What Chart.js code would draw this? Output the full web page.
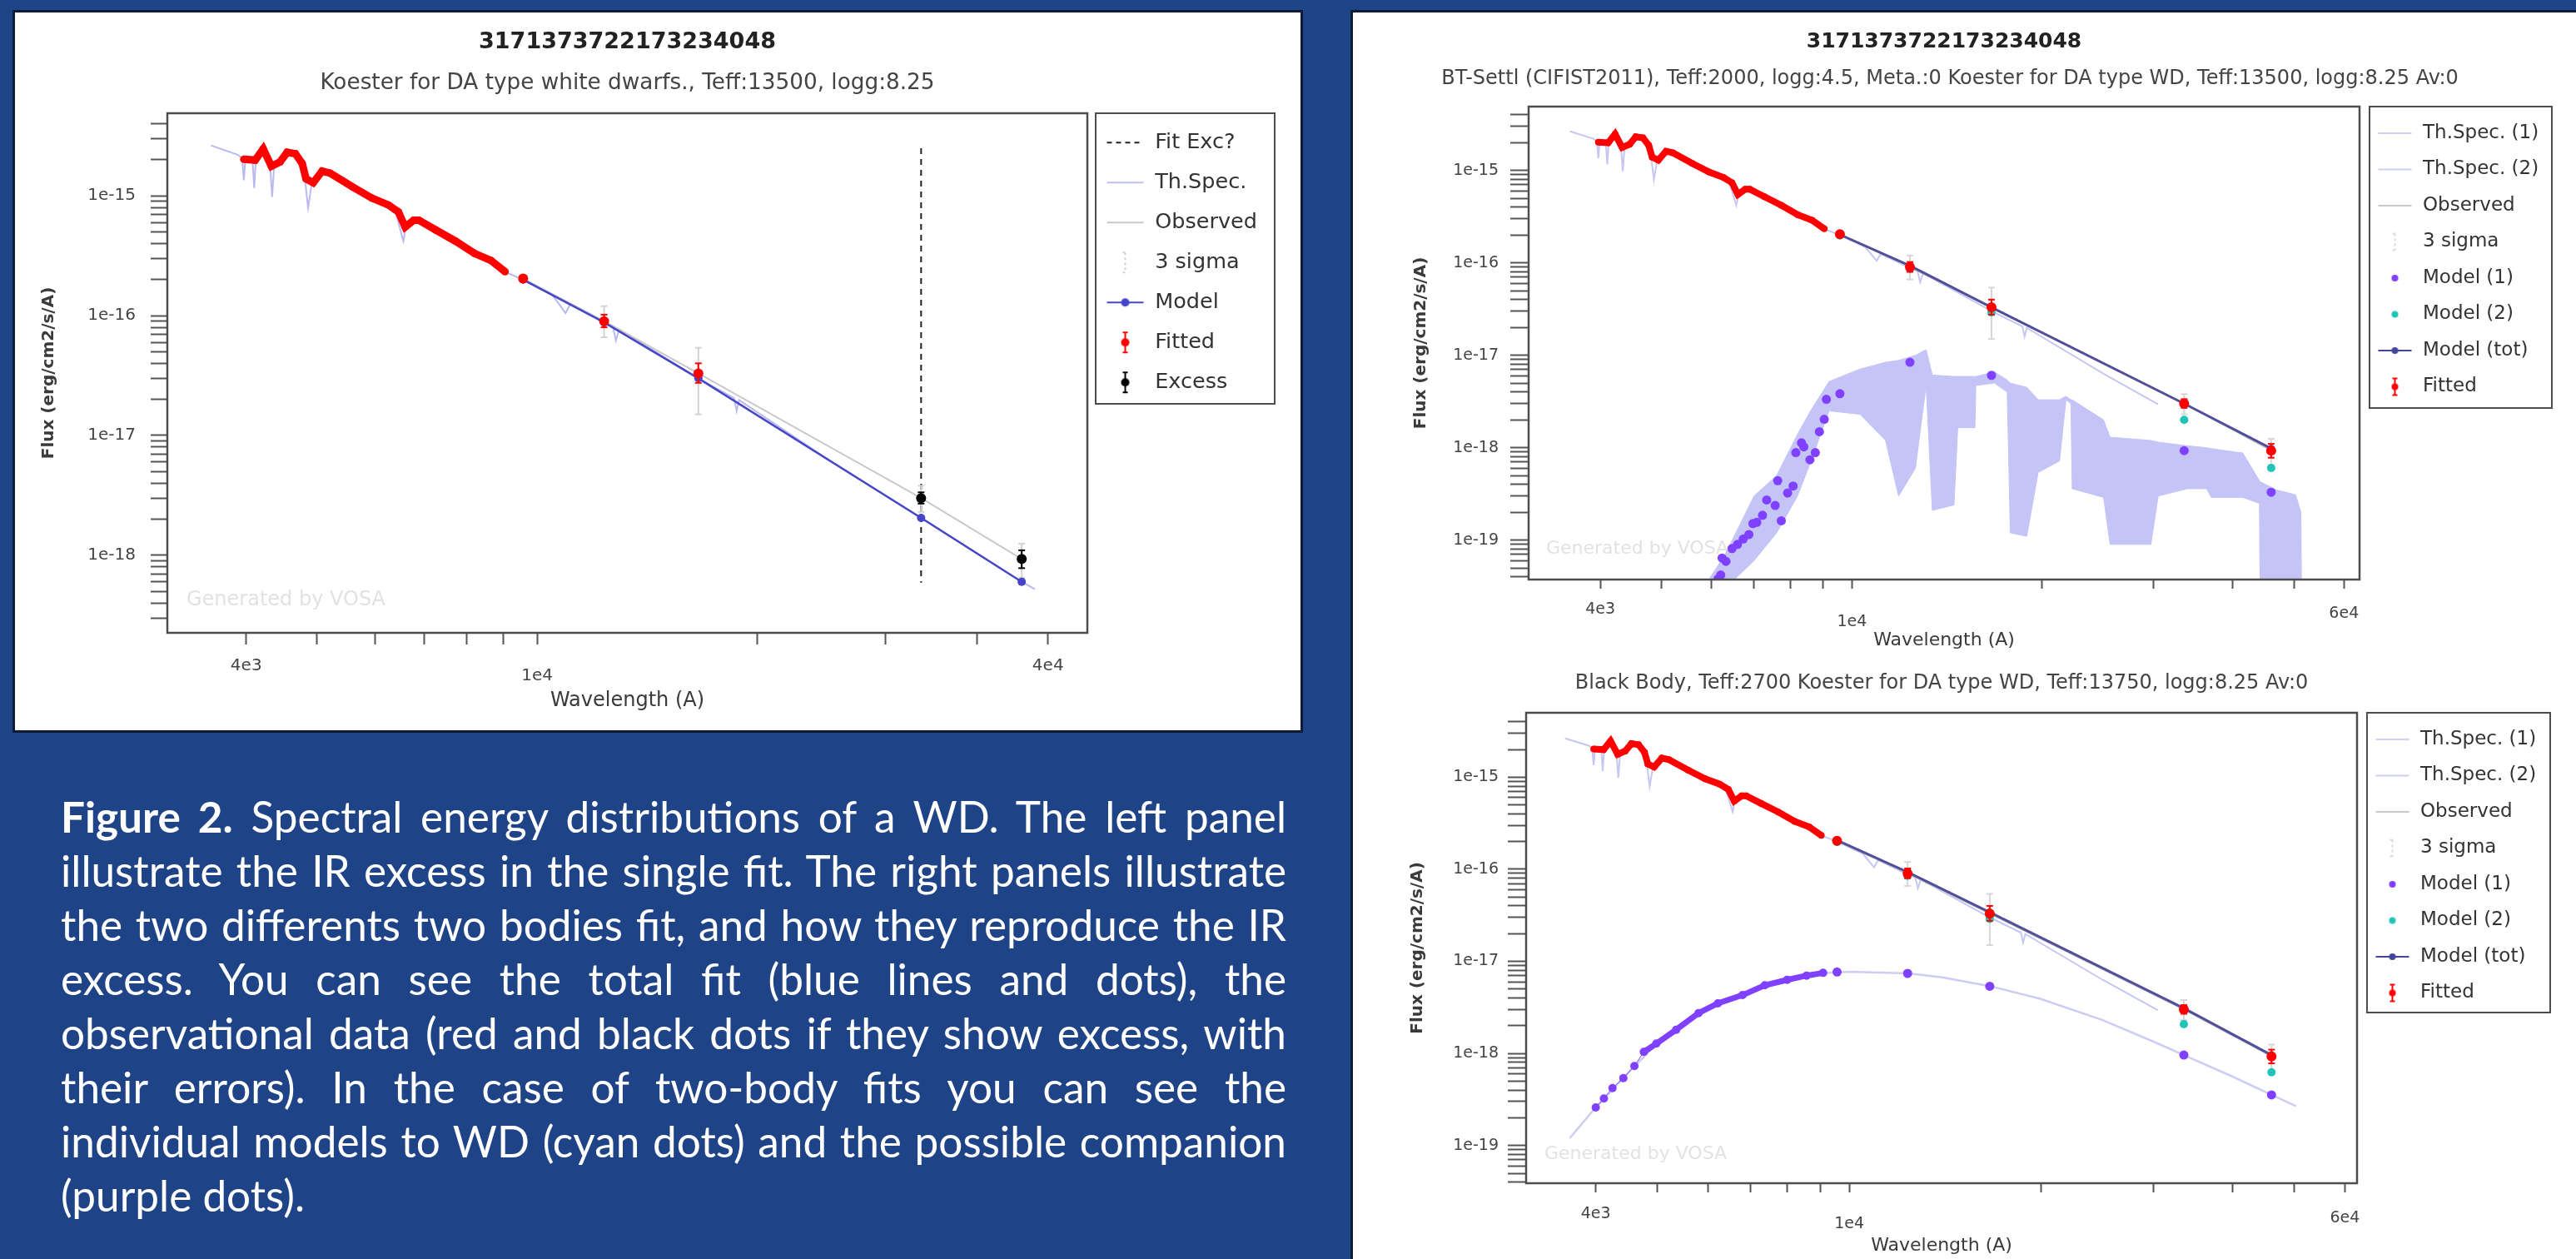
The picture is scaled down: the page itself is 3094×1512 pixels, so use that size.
<!DOCTYPE html>
<html>
<head>
<meta charset="utf-8">
<title>SED 3171373722173234048</title>
<script src="https://cdn.jsdelivr.net/npm/chart.js@4.4.1/dist/chart.umd.min.js"></script>
<style>
  html, body { margin: 0; padding: 0; }
  body { width: 3094px; height: 1512px; background: #1f4387; position: relative; overflow: hidden; }
  .panel { position: absolute; background: #fff; box-shadow: 0 0 0 3px #0d1b36; }
  #left { left: 18px; top: 15px; width: 1544px; height: 862px; }
  #right { left: 1625px; top: 15px; width: 1469px; height: 1497px; }
  canvas { position: absolute; left: 0; }
  #caption { position: absolute; left: 73px; top: 948px; width: 1472px; color: #fff; font-family: Lato, sans-serif; font-size: 46px; line-height: 65px; }
  #caption div { text-align: justify; text-align-last: justify; }
  #caption div:last-child { text-align-last: left; }
</style>
</head>
<body>
<div class="panel" id="left"><canvas id="c1" width="1544" height="862" style="top:0"></canvas></div>
<div class="panel" id="right">
  <canvas id="c2" width="1469" height="770" style="top:0"></canvas>
  <canvas id="c3" width="1469" height="727" style="top:770px"></canvas>
</div>
<div id="caption"></div>
<script>
// observed photometry / spectrum of the WD (same star in all three panels)
const specLam  = [3970, 4115, 4220, 4330, 4450, 4550, 4670, 4770, 4830, 4940, 5080, 5210, 5590, 5940, 6260, 6460, 6600, 6780, 6890, 7270, 7730, 8210, 8650, 9040];
const specFlux = [2.02e-15, 1.99e-15, 2.47e-15, 1.77e-15, 1.92e-15, 2.31e-15, 2.25e-15, 1.87e-15, 1.39e-15, 1.29e-15, 1.61e-15, 1.55e-15, 1.19e-15, 9.6e-16, 8.4e-16, 7.35e-16, 5.5e-16, 6.27e-16, 6.27e-16, 5.19e-16, 4.2e-16, 3.31e-16, 2.89e-16, 2.33e-16];
const photLam   = [9570, 12350, 16620, 33526, 46028];
const photFlux  = [2.04e-16, 9.0e-17, 3.3e-17, 3.0e-18, 9.3e-19];
const photErrHi = [2.1e-16, 1.02e-16, 4.0e-17, 3.35e-18, 1.1e-18];
const photErrLo = [1.98e-16, 8.0e-17, 2.75e-17, 2.7e-18, 7.8e-19];
const sigma3Hi  = [2.25e-16, 1.2e-16, 5.4e-17, 3.8e-18, 1.25e-18];
const sigma3Lo  = [1.8e-16, 6.6e-17, 1.5e-17, 2.3e-18, 6.5e-19];

// Koester WD theoretical spectrum
const thLam  = [3580, 3900, 3950, 3970, 3990, 4080, 4102, 4125, 4200, 4310, 4340, 4370, 4500, 4650, 4800, 4861, 4920, 5080, 5600, 6000, 6400, 6563, 6620, 6800, 7300, 8200, 9000, 9570, 10500, 10940, 11100, 12350, 12700, 12818, 12950, 16620, 18600, 18751, 18900, 25000, 30500, 33526, 46028, 48000];
const thFlux = [2.64e-15, 2.2e-15, 2.05e-15, 1.35e-15, 2.05e-15, 2.0e-15, 1.16e-15, 2.1e-15, 2.35e-15, 1.9e-15, 9.8e-16, 1.85e-15, 2.1e-15, 2.2e-15, 1.6e-15, 7.96e-16, 1.3e-15, 1.58e-15, 1.18e-15, 9.4e-16, 7.4e-16, 4.2e-16, 5.6e-16, 6.2e-16, 5.1e-16, 3.3e-16, 2.35e-16, 2.0e-16, 1.48e-16, 1.05e-16, 1.25e-16, 8.8e-17, 8.1e-17, 6.2e-17, 7.7e-17, 3.0e-17, 2.05e-17, 1.6e-17, 1.98e-17, 6.3e-18, 2.95e-18, 2.05e-18, 6.0e-19, 5.2e-19];

// left panel: single fit
const modelLeft = [2.0e-16, 8.8e-17, 3.0e-17, 2.05e-18, 6.0e-19];
const fitExcLam = 33526;
const fitExcFlux = [2.5e-15, 5.9e-19];

// right top: BT-Settl + Koester
const wdTop  = [1.98e-16, 8.6e-17, 2.9e-17, 2.0e-18, 6.04e-19];
const totTop = [2.02e-16, 9.3e-17, 3.3e-17, 3.0e-18, 9.8e-19];
const m1TopPhot = [3.84e-18, 8.4e-18, 6.07e-18, 9.3e-19, 3.3e-19];
const m1TopLam  = [6140, 6200, 6230, 6320, 6460, 6590, 6730, 6870, 6970, 7070, 7220, 7330, 7560, 7630, 7730, 7910, 8070, 8150, 8320, 8390, 8580, 8750, 8880, 9040, 9110];
const m1TopFlux = [3.8e-20, 4.2e-20, 6.4e-20, 5.9e-20, 8.1e-20, 9.0e-20, 1.03e-19, 1.15e-19, 1.51e-19, 1.56e-19, 1.86e-19, 2.72e-19, 2.37e-19, 4.4e-19, 1.62e-19, 3.24e-19, 3.85e-19, 8.85e-19, 1.13e-18, 1.02e-18, 7.4e-19, 8.85e-19, 1.49e-18, 2.03e-18, 3.34e-18];
const bandLam = [5900, 6300, 7000, 7600, 8200, 8600, 9200, 10300, 11300, 11850, 12600, 13100, 13400, 14500, 14700, 15650, 15700, 16800, 17600, 17800, 18900, 19700, 21300, 21800, 22200, 22300, 25000, 25600, 29700, 30500, 33900, 36400, 37000, 40700, 41500, 44100, 44200, 46900, 50300, 51300, 51400];
const bandHi  = [3.5e-20, 7e-20, 3e-19, 5e-19, 1.4e-18, 2.5e-18, 5.2e-18, 7.1e-18, 8.4e-18, 8.8e-18, 1.0e-17, 1.15e-17, 6.1e-18, 5.9e-18, 5.9e-18, 5.9e-18, 5.9e-18, 6.6e-18, 5.4e-18, 5.0e-18, 4.5e-18, 3.3e-18, 3.3e-18, 3.6e-18, 3.3e-18, 3.3e-18, 2.0e-18, 1.3e-18, 1.2e-18, 1.15e-18, 1.05e-18, 1.0e-18, 9.8e-19, 8.9e-19, 8.8e-19, 4.4e-19, 4.3e-19, 3.5e-19, 3.1e-19, 2.0e-19, 3e-20];
const bandLo  = [3e-20, 3e-20, 6e-20, 1.2e-19, 3e-19, 7e-19, 2.5e-18, 2.3e-18, 1.2e-18, 3e-19, 6e-19, 4.7e-18, 2.1e-19, 2.4e-19, 1.65e-18, 1.65e-18, 4.7e-18, 5.0e-18, 4.0e-18, 1.2e-19, 1.1e-19, 5.4e-19, 7.2e-19, 3.3e-18, 3.0e-18, 3.6e-19, 2.9e-19, 9e-20, 9e-20, 3.0e-19, 3.6e-19, 3.6e-19, 2.9e-19, 2.9e-19, 2.9e-19, 2.5e-19, 3e-20, 3e-20, 3e-20, 3e-20, 3e-20];

// right bottom: black body + Koester
const wdBot  = [1.98e-16, 8.5e-17, 2.9e-17, 2.08e-18, 6.25e-19];
const totBot = [2.06e-16, 9.3e-17, 3.41e-17, 3.1e-18, 9.6e-19];
const m1BotPhot = [7.67e-18, 7.4e-18, 5.37e-18, 9.6e-19, 3.55e-19];
const bbLam  = [4000, 4120, 4250, 4420, 4600, 4760, 4980, 5350, 5800, 6220, 6800, 7370, 7990, 8570, 9100];
const bbFlux = [2.59e-19, 3.24e-19, 4.2e-19, 5.4e-19, 7.3e-19, 1.04e-18, 1.28e-18, 1.81e-18, 2.74e-18, 3.5e-18, 4.3e-18, 5.5e-18, 6.3e-18, 7.0e-18, 7.5e-18];
const bbThLam  = [3640, 4000, 4500, 5000, 6000, 7000, 8000, 9000, 10000, 12400, 14000, 16660, 20000, 25000, 30000, 33526, 40000, 46028, 50300];
const bbThFlux = [1.2e-19, 2.6e-19, 6.2e-19, 1.3e-18, 3.1e-18, 4.8e-18, 6.3e-18, 7.4e-18, 7.7e-18, 7.4e-18, 6.7e-18, 5.37e-18, 3.9e-18, 2.3e-18, 1.35e-18, 9.6e-19, 5.6e-19, 3.55e-19, 2.68e-19];

// ticks
const xTicksLeft  = [4e3, 5e3, 6e3, 7e3, 8e3, 9e3, 1e4, 2e4, 3e4, 4e4, 5e4];
const xTextLeft   = ['4e3', '', '', '', '', '', '1e4', '', '', '', '4e4'];
const xTicksRight = [4e3, 5e3, 6e3, 7e3, 8e3, 9e3, 1e4, 2e4, 3e4, 4e4, 5e4, 6e4];
const xTextRight  = ['4e3', '', '', '', '', '', '1e4', '', '', '', '', '6e4'];
const yDecades = [1e-20, 1e-19, 1e-18, 1e-17, 1e-16, 1e-15];
const yText    = ['1e-20', '1e-19', '1e-18', '1e-17', '1e-16', '1e-15'];

const starId = '3171373722173234048';
const captionBold = 'Figure 2.';
const captionLines = [
  ' Spectral energy distributions of a WD. The left panel',
  'illustrate the IR excess in the single fit. The right panels illustrate',
  'the two differents two bodies fit, and how they reproduce the IR',
  'excess. You can see the total fit (blue lines and dots), the',
  'observational data (red and black dots if they show excess, with',
  'their errors). In the case of two-body fits you can see the',
  'individual models to WD (cyan dots) and the possible companion',
  '(purple dots).'
];

Chart.defaults.font.family = 'DejaVu Sans';
Chart.defaults.color = '#444';

const RED = '#ff0000', PURPLE = '#8040ff', CYAN = '#22c4b8';

const pts = (lam, flux) => lam.map((x, i) => ({ x, y: flux[i] }));
const sel = (lam, flux, idx) => idx.map(i => ({ x: lam[i], y: flux[i] }));
const bars = (hi, lo, idx) => idx.flatMap(i => [{ x: photLam[i], y: hi[i] }, { x: photLam[i], y: lo[i] }, { x: photLam[i], y: null }]);
const upTo = (lam, flux, max) => pts(lam, flux).filter(p => p.x <= max);

const lineDs = (data, color, width, extra) => Object.assign({ data, borderColor: color, borderWidth: width, pointRadius: 0, showLine: true, fill: false, tension: 0 }, extra || {});
const dotDs = (data, color, r) => ({ data, showLine: false, pointRadius: r, pointBackgroundColor: color, pointBorderWidth: 0, borderColor: color });
const errDs = (data, color) => ({ data, showLine: true, spanGaps: false, borderColor: color, borderWidth: 2, pointStyle: 'line', pointRadius: 4, pointBorderColor: color, pointBorderWidth: 2 });

// legend symbols
function sym(w, h, draw) { const c = document.createElement('canvas'); c.width = w; c.height = h; draw(c.getContext('2d'), w, h); return c; }
const symLine = (w, h, col, dash) => sym(w, h, (g) => { g.strokeStyle = col; g.lineWidth = 2; if (dash) g.setLineDash(dash); g.beginPath(); g.moveTo(1, h / 2); g.lineTo(w - 1, h / 2); g.stroke(); });
const symDot = (w, h, col, r) => sym(w, h, (g) => { g.fillStyle = col; g.beginPath(); g.arc(w / 2, h / 2, r, 0, 2 * Math.PI); g.fill(); });
const symLineDot = (w, h, col, r) => sym(w, h, (g) => {
  g.strokeStyle = col; g.lineWidth = 2; g.beginPath(); g.moveTo(1, h / 2); g.lineTo(w - 1, h / 2); g.stroke();
  g.fillStyle = col; g.beginPath(); g.arc(w / 2, h / 2, r, 0, 2 * Math.PI); g.fill();
});
const symBar = (w, h, col, r, dash) => sym(w, h, (g) => {
  g.strokeStyle = col; g.lineWidth = 2; if (dash) g.setLineDash(dash);
  g.beginPath(); g.moveTo(w / 2, 2); g.lineTo(w / 2, h - 2);
  g.moveTo(w / 2 - 3, 2); g.lineTo(w / 2 + 3, 2); g.moveTo(w / 2 - 3, h - 2); g.lineTo(w / 2 + 3, h - 2); g.stroke();
  if (r) { g.fillStyle = col; g.beginPath(); g.arc(w / 2, h / 2, r, 0, 2 * Math.PI); g.fill(); }
});

// plot frame, legend frame and VOSA watermark
const frames = {
  id: 'frames',
  beforeDatasetsDraw(chart, args, o) {
    const { ctx, chartArea: a } = chart;
    ctx.save();
    ctx.font = o.markSize + 'px "DejaVu Sans"';
    ctx.fillStyle = '#e2e2e2';
    ctx.textBaseline = 'middle';
    ctx.fillText('Generated by VOSA', a.left + o.markX, a.bottom - o.markY);
    ctx.restore();
  },
  afterDraw(chart, args, o) {
    const { ctx, chartArea: a, legend } = chart;
    ctx.save();
    ctx.strokeStyle = '#4d4d4d';
    ctx.lineWidth = 2.5;
    ctx.strokeRect(a.left, a.top, a.right - a.left, a.bottom - a.top);
    ctx.lineWidth = 2;
    ctx.strokeRect(legend.left + o.boxX, a.top, o.boxW, o.boxH);
    ctx.restore();
  }
};

function xAxis(s) {
  return {
    type: 'logarithmic', position: 'bottom', min: s.min, max: s.max,
    afterFit: sc => { sc.height = s.h; },
    afterBuildTicks: sc => { sc.ticks = s.vals.map(v => ({ value: v })); },
    grid: { drawOnChartArea: false, tickLength: s.tl, tickWidth: 2, tickColor: '#555' },
    border: { display: false },
    ticks: {
      autoSkip: false, maxRotation: 0, minRotation: 0, padding: s.pad, color: '#444',
      font: c => ({ size: s.fs, lineHeight: 1.2 + 2 * ((c.tick && s.drop[c.tick.value]) || 0) / s.fs }),
      callback: (v, i) => s.text[i]
    },
    title: { display: true, text: 'Wavelength (A)', color: '#3a3a3a', font: { size: s.tfs, lineHeight: 1.2 }, padding: { top: 0, bottom: s.tpb } }
  };
}

function yAxis(s) {
  const vals = [];
  yDecades.forEach(d => [1, 2, 3, 4, 5, 6, 7, 8, 9].forEach(m => { const v = d * m; if (v >= s.min && v <= s.max) vals.push(v); }));
  const labelOf = new Map(yDecades.map((d, i) => [d, yText[i]]));
  return {
    type: 'logarithmic', position: 'left', min: s.min, max: s.max,
    afterFit: sc => { sc.width = s.w; },
    afterBuildTicks: sc => { sc.ticks = vals.map(v => ({ value: v })); },
    grid: { drawOnChartArea: false, tickLength: s.tl, tickWidth: 2, tickColor: '#555' },
    border: { display: false },
    ticks: { autoSkip: false, padding: s.pad, color: '#444', font: { size: s.fs }, callback: v => labelOf.get(v) || '' },
    title: { display: true, text: 'Flux (erg/cm2/s/A)', color: '#3a3a3a', font: { size: s.tfs, weight: 'bold', lineHeight: 1.2 }, padding: { top: s.tpt, bottom: 0 } }
  };
}

function buildChart(id, s) {
  const opts = {
    responsive: false, animation: false, events: [],
    layout: { padding: { left: 0, top: 0, bottom: 0, right: s.padR } },
    scales: { x: xAxis(s.x), y: yAxis(s.y) },
    plugins: {
      title: s.title ? { display: true, text: s.title.text, fullSize: false, color: '#222', font: { size: s.title.fs, weight: 'bold', lineHeight: 1 }, padding: { top: s.title.pt, bottom: 0 } } : { display: false },
      subtitle: { display: true, text: s.sub.text, fullSize: !!s.sub.full, color: '#444', font: { size: s.sub.fs, lineHeight: 1 }, padding: { top: s.sub.pt, bottom: s.sub.pb } },
      legend: {
        position: 'right', align: 'start', fullSize: false,
        labels: {
          usePointStyle: true, pointStyleWidth: s.leg.bw, padding: s.leg.pad, color: '#333', font: { size: s.leg.fs },
          generateLabels: () => s.leg.items.map(([text, img]) => ({ text, pointStyle: img, lineWidth: 0, hidden: false, fontColor: '#333' }))
        }
      },
      tooltip: { enabled: false },
      frames: s.frames
    }
  };
  const chart = new Chart(document.getElementById(id), { type: 'line', data: { datasets: s.datasets }, options: opts, plugins: [frames] });
  for (let k = 0; k < 2; k++) {
    opts.layout.padding.right += chart.chartArea.right - s.right;
    chart.update('none');
  }
  return chart;
}

// ---------- left: single fit with IR excess ----------
const LW = 46, LH = 28;
buildChart('c1', {
  padR: 40, right: 1288,
  title: { text: starId, fs: 27, pt: 22.5 },
  sub: { text: 'Koester for DA type white dwarfs., Teff:13500, logg:8.25', fs: 26.3, pt: 22.35, pb: 22.85 },
  x: { min: 3120, max: 56600, vals: xTicksLeft, text: xTextLeft, h: 117, tl: 14, pad: 14, fs: 20, tfs: 24, tpb: 21, drop: { 10000: 12 } },
  y: { min: 2.25e-19, max: 4.9e-15, w: 183, tl: 20, pad: 18, fs: 20, tfs: 20, tpt: 29 },
  leg: { fs: 25.5, pad: 22.5, bw: LW, items: [
    ['Fit Exc?', symLine(LW, LH, '#222', [6, 5])],
    ['Th.Spec.', symLine(LW, LH, '#c0c0f0')],
    ['Observed', symLine(LW, LH, '#c9c9c9')],
    ['3 sigma', symBar(LW, LH, '#d0d0d0', 0, [3, 3])],
    ['Model', symLineDot(LW, LH, '#4646c8', 5)],
    ['Fitted', symBar(LW, LH, RED, 5)],
    ['Excess', symBar(LW, LH, '#000', 5)]
  ] },
  frames: { boxX: 10, boxW: 215, boxH: 349, markX: 23, markY: 39, markSize: 24 },
  datasets: [
    dotDs(sel(photLam, photFlux, [3, 4]), '#000', 6),
    errDs(bars(photErrHi, photErrLo, [3, 4]), '#000'),
    dotDs(sel(photLam, photFlux, [0, 1, 2]), RED, 6),
    errDs(bars(photErrHi, photErrLo, [1, 2]), RED),
    lineDs(pts(specLam, specFlux), RED, 9, { pointRadius: 4.5, pointBackgroundColor: RED, pointBorderWidth: 0 }),
    lineDs(pts(photLam, modelLeft), '#4646c8', 2.5, { pointRadius: 5, pointBackgroundColor: '#4646c8', pointBorderWidth: 0 }),
    errDs(bars(sigma3Hi, sigma3Lo, [1, 2, 3, 4]), '#d2d2d2'),
    lineDs(pts(photLam, photFlux), '#c9c9c9', 2),
    lineDs(pts(thLam, thFlux), '#b9b9f0', 2),
    lineDs([{ x: fitExcLam, y: fitExcFlux[0] }, { x: fitExcLam, y: fitExcFlux[1] }], '#222', 2, { borderDash: [7, 6] })
  ]
});

// ---------- right: two-body fits ----------
const RW = 42, RH = 24;
const rightLegend = () => [
  ['Th.Spec. (1)', symLine(RW, RH, '#cfcff4')],
  ['Th.Spec. (2)', symLine(RW, RH, '#cfcff4')],
  ['Observed', symLine(RW, RH, '#c9c9c9')],
  ['3 sigma', symBar(RW, RH, '#d8d8d8', 0, [3, 3])],
  ['Model (1)', symDot(RW, RH, PURPLE, 4)],
  ['Model (2)', symDot(RW, RH, CYAN, 4)],
  ['Model (tot)', symLineDot(RW, RH, '#45459a', 4)],
  ['Fitted', symBar(RW, RH, RED, 4)]
];

buildChart('c2', {
  padR: 36, right: 1209,
  title: { text: starId, fs: 25, pt: 22.5 },
  sub: { text: 'BT-Settl (CIFIST2011), Teff:2000, logg:4.5, Meta.:0 Koester for DA type WD, Teff:13500, logg:8.25 Av:0', fs: 24, pt: 20, pb: 21.5, full: true },
  x: { min: 3080, max: 63500, vals: xTicksRight, text: xTextRight, h: 89, tl: 11, pad: 13.5, fs: 19, tfs: 22, tpb: 3, drop: { 10000: 15, 60000: 5 } },
  y: { min: 3.75e-20, max: 4.9e-15, w: 211, tl: 22, pad: 14, fs: 19, tfs: 20, tpt: 69.7 },
  leg: { fs: 23, pad: 20.5, bw: 44, items: rightLegend() },
  frames: { boxX: 12, boxW: 219, boxH: 362, markX: 21, markY: 37, markSize: 22 },
  datasets: [
    dotDs(pts(photLam, photFlux), RED, 6),
    errDs(bars(photErrHi, photErrLo, [1, 2, 3, 4]), RED),
    lineDs(pts(specLam, specFlux), RED, 8, { pointRadius: 4, pointBackgroundColor: RED, pointBorderWidth: 0 }),
    dotDs(pts(photLam, wdTop), CYAN, 5),
    lineDs(pts(photLam, totTop), '#50509a', 3, { pointRadius: 4.5, pointBackgroundColor: '#45459a', pointBorderWidth: 0 }),
    dotDs(pts(photLam, m1TopPhot), PURPLE, 5.5),
    dotDs(pts(m1TopLam, m1TopFlux), PURPLE, 5.5),
    errDs(bars(sigma3Hi, sigma3Lo, [1, 2, 3, 4]), '#d6d6d6'),
    lineDs(pts(photLam, photFlux), '#c9c9c9', 2),
    lineDs(upTo(thLam, thFlux, 30500), '#c6c6f2', 2),
    lineDs(pts(bandLam, bandHi), '#c4c4f6', 1, { fill: '+1', backgroundColor: '#c4c4f6' }),
    lineDs(pts(bandLam, bandLo), '#c4c4f6', 1)
  ]
});

buildChart('c3', {
  padR: 36, right: 1206,
  title: null,
  sub: { text: 'Black Body, Teff:2700 Koester for DA type WD, Teff:13750, logg:8.25 Av:0', fs: 24, pt: 24, pb: 23 },
  x: { min: 3110, max: 62700, vals: xTicksRight, text: xTextRight, h: 91, tl: 11, pad: 14.5, fs: 19, tfs: 22, tpb: 3, drop: { 10000: 12, 60000: 5 } },
  y: { min: 3.9e-20, max: 5.0e-15, w: 208, tl: 22, pad: 11, fs: 19, tfs: 20, tpt: 66 },
  leg: { fs: 23, pad: 20.5, bw: 44, items: rightLegend() },
  frames: { boxX: 12, boxW: 220, boxH: 360, markX: 22, markY: 35, markSize: 22 },
  datasets: [
    dotDs(pts(photLam, photFlux), RED, 6),
    errDs(bars(photErrHi, photErrLo, [1, 2, 3, 4]), RED),
    lineDs(pts(specLam, specFlux), RED, 8, { pointRadius: 4, pointBackgroundColor: RED, pointBorderWidth: 0 }),
    dotDs(pts(photLam, wdBot), CYAN, 5),
    lineDs(pts(photLam, totBot), '#50509a', 3, { pointRadius: 4.5, pointBackgroundColor: '#45459a', pointBorderWidth: 0 }),
    dotDs(pts(photLam, m1BotPhot), PURPLE, 5.5),
    lineDs(pts(bbLam, bbFlux), PURPLE, 7, { pointRadius: 5, pointBackgroundColor: PURPLE, pointBorderWidth: 0, segment: { borderWidth: c => (c.p0.parsed.x < 4700 ? 0 : 7) } }),
    errDs(bars(sigma3Hi, sigma3Lo, [1, 2, 3, 4]), '#d6d6d6'),
    lineDs(pts(photLam, photFlux), '#c9c9c9', 2),
    lineDs(upTo(thLam, thFlux, 30500), '#c6c6f2', 2),
    lineDs(pts(bbThLam, bbThFlux), '#cdcdf3', 2.5)
  ]
});

// ---------- caption ----------
(function () {
  const cap = document.getElementById('caption');
  captionLines.forEach((t, i) => {
    const d = document.createElement('div');
    if (i === 0) { const b = document.createElement('b'); b.textContent = captionBold; d.appendChild(b); }
    d.appendChild(document.createTextNode(t));
    cap.appendChild(d);
  });
  const g = document.createElement('canvas').getContext('2d');
  let maxW = 0;
  captionLines.slice(0, -1).forEach((t, i) => {
    g.font = '100px Lato';
    let w = g.measureText(t).width;
    if (i === 0) { g.font = 'bold 100px Lato'; w += g.measureText(captionBold).width; }
    maxW = Math.max(maxW, w);
  });
  cap.style.fontSize = Math.min(52, 147200 / maxW * 0.985) + 'px';
})();
</script>
</body>
</html>
